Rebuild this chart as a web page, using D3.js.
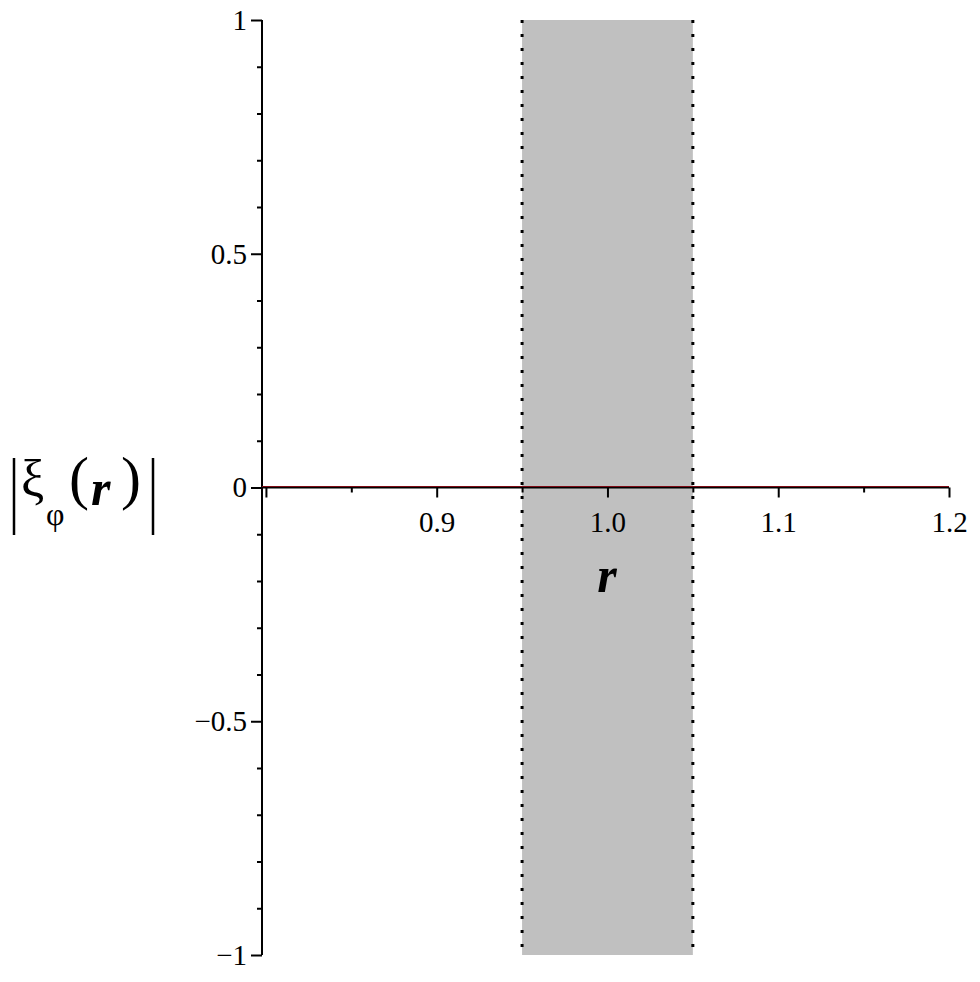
<!DOCTYPE html>
<html>
<head>
<meta charset="utf-8">
<script src="https://cdn.jsdelivr.net/npm/d3@7"></script>
<style>
  body { margin: 0; background: #fff; }
  text { font-family: "Liberation Serif", "Times New Roman", serif; fill: #000; }
</style>
</head>
<body>
<svg width="980" height="982"></svg>
<script>
// data
const xDomain = [0.7977, 1.2];
const yDomain = [-1, 1];
const xMajor = [0.8, 0.9, 1.0, 1.1, 1.2];
const xMinor = [0.85, 0.95, 1.05, 1.15];
const xLabels = ['', '0.9', '1.0', '1.1', '1.2'];
const yMajor = [-1, -0.5, 0, 0.5, 1];
const yLabels = ['\u22121', '\u22120.5', '0', '0.5', '1'];
const yMinor = [-0.9, -0.8, -0.7, -0.6, -0.4, -0.3, -0.2, -0.1, 0.1, 0.2, 0.3, 0.4, 0.6, 0.7, 0.8, 0.9];
const band = [0.95, 1.05];
const curveX = [0.7977, 1.0, 1.2];
const curveY = [0, 0, 0];

const svg = d3.select('svg');

const x = d3.scaleLinear().domain(xDomain).range([262, 949]);
const y = d3.scaleLinear().domain(yDomain).range([955, 20]);

// shaded region
svg.append('rect')
  .attr('x', x(band[0]))
  .attr('y', y(1))
  .attr('width', x(band[1]) - x(band[0]))
  .attr('height', y(-1) - y(1))
  .attr('fill', '#c0c0c0');

svg.selectAll('.edge').data(band)
  .enter().append('line')
    .attr('class', 'edge')
    .attr('x1', d => x(d)).attr('x2', d => x(d))
    .attr('y1', y(1)).attr('y2', y(-1))
    .attr('stroke', '#000')
    .attr('stroke-width', 3)
    .attr('stroke-dasharray', '3 11');

// y axis
const yAxis = svg.append('g').attr('transform', `translate(${x(xDomain[0])},0)`);
yAxis.call(d3.axisLeft(y).tickValues(yMinor).tickSize(5).tickFormat(''));
yAxis.call(g => g.select('.domain').remove());
const yMaj = svg.append('g').attr('transform', `translate(${x(xDomain[0])},0)`)
  .call(d3.axisLeft(y).tickValues(yMajor).tickSize(11).tickPadding(4)
    .tickFormat((d, i) => yLabels[i]));
yMaj.select('.domain').attr('d', `M0,${y(1)}V${y(-1)}`);
yMaj.selectAll('text').attr('font-size', 29);

// x axis
const xAxisG = svg.append('g').attr('transform', `translate(0,${y(0)})`);
xAxisG.call(d3.axisBottom(x).tickValues(xMinor).tickSize(5).tickFormat(''));
xAxisG.select('.domain').remove();
const xMaj = svg.append('g').attr('transform', `translate(0,${y(0)})`)
  .call(d3.axisBottom(x).tickValues(xMajor).tickSize(10).tickPadding(14)
    .tickFormat((d, i) => xLabels[i]));
xMaj.select('.domain').attr('d', `M${x(xDomain[0])},0H${x(1.2)}`);
xMaj.selectAll('text').attr('font-size', 29);
svg.selectAll('g path, g line').attr('stroke', '#000').attr('stroke-width', 2);

// curve
const line = d3.line().x(d => x(d[0])).y(d => y(d[1]) - 1);
svg.append('path')
  .datum(curveX.map((v, i) => [v, curveY[i]]))
  .attr('d', line)
  .attr('fill', 'none')
  .attr('stroke', '#7d0a14')
  .attr('stroke-width', 1.2);

// axis titles
svg.append('text')
  .attr('x', 607).attr('y', 592)
  .attr('text-anchor', 'middle')
  .attr('font-size', 50)
  .attr('font-style', 'italic')
  .attr('font-weight', 'bold')
  .text('r');

const lab = svg.append('g');
lab.append('line').attr('x1', 14).attr('x2', 14).attr('y1', 458).attr('y2', 535)
  .attr('stroke', '#000').attr('stroke-width', 2.5);
lab.append('line').attr('x1', 153).attr('x2', 153).attr('y1', 458).attr('y2', 535)
  .attr('stroke', '#000').attr('stroke-width', 2.5);
lab.append('text').attr('x', 21).attr('y', 496).attr('font-size', 52).text('\u03be');
lab.append('text').attr('x', 46).attr('y', 525).attr('font-size', 32).text('\u03c6');
lab.append('text').attr('x', 69).attr('y', 498).attr('font-size', 60).text('(');
lab.append('text').attr('x', 91).attr('y', 505).attr('font-size', 50)
  .attr('font-style', 'italic').attr('font-weight', 'bold').text('r');
lab.append('text').attr('x', 121).attr('y', 498).attr('font-size', 60).text(')');
</script>
</body>
</html>
